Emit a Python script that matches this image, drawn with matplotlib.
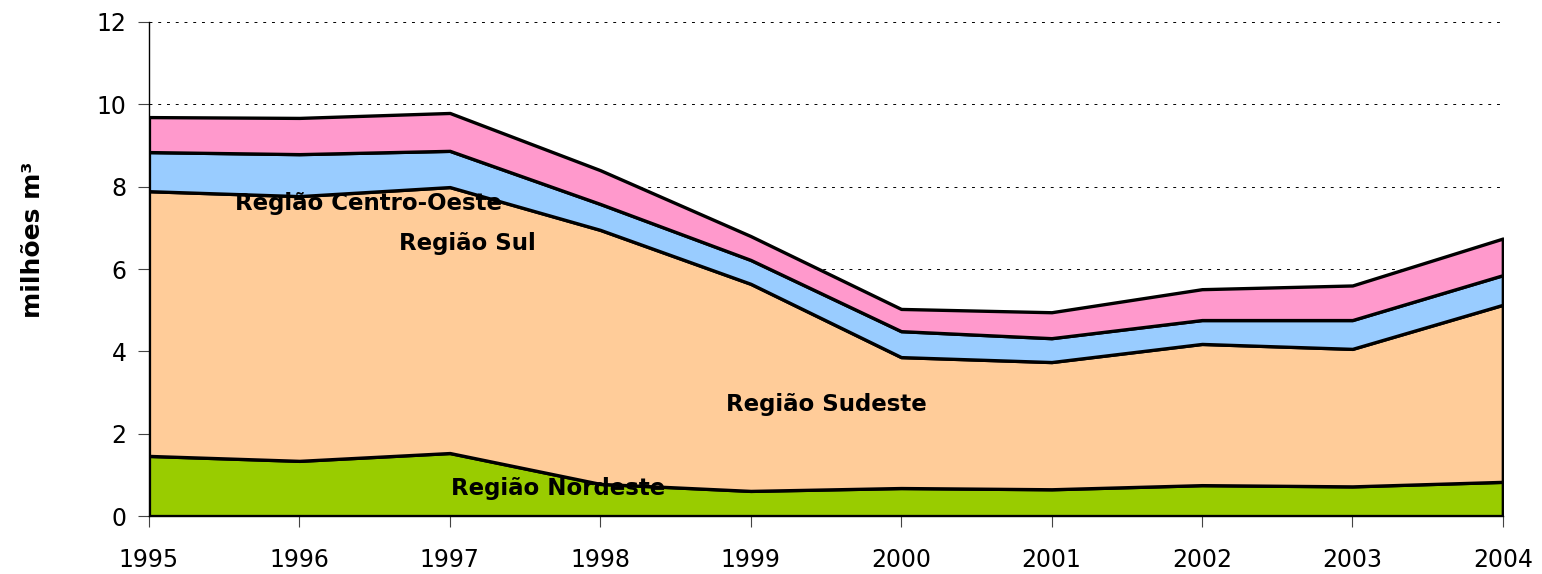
import matplotlib.pyplot as plt
import numpy as np

years = [1995, 1996, 1997, 1998, 1999, 2000, 2001, 2002, 2003, 2004]

nordeste = [1.46, 1.34, 1.53, 0.78, 0.61, 0.68, 0.65, 0.75, 0.72, 0.83]
sudeste_top = [7.89, 7.77, 7.99, 6.95, 5.64, 3.86, 3.74, 4.18, 4.06, 5.13]
sul_top = [8.84, 8.79, 8.87, 7.58, 6.22, 4.49, 4.32, 4.76, 4.76, 5.85]
co_top = [9.69, 9.67, 9.79, 8.40, 6.80, 5.03, 4.95, 5.51, 5.60, 6.74]

sudeste = np.array(sudeste_top) - np.array(nordeste)
sul = np.array(sul_top) - np.array(sudeste_top)
centro_oeste = np.array(co_top) - np.array(sul_top)

colors = ['#99CC00', '#FFCC99', '#99CCFF', '#FF99CC']

fig = plt.figure(figsize=(15.42, 5.74), dpi=100)
ax = fig.add_axes([0.0966, 0.101, 0.878, 0.8607])

ax.stackplot(years, nordeste, sudeste, sul, centro_oeste,
             colors=colors, edgecolor='black', linewidth=2.4, zorder=2)

ax.set_xlim(1995, 2004)
ax.set_ylim(0, 12)
ax.set_xticks(years)
ax.set_yticks(range(0, 13, 2))
ax.grid(axis='y', linestyle=(0, (3, 6)), color='black', linewidth=0.7, zorder=0)
ax.set_axisbelow(True)

for s in ['top', 'right']:
    ax.spines[s].set_visible(False)
ax.spines['left'].set_linewidth(1.0)
ax.spines['bottom'].set_linewidth(1.0)
ax.tick_params(axis='both', labelsize=17, length=8, width=0.8, color='#444444')
ax.tick_params(axis='y', pad=8)
ax.tick_params(axis='x', pad=15)

ax.set_ylabel('milhões m³', fontsize=18, fontweight='bold', va='center')
ax.yaxis.set_label_coords(-0.086, 0.56)

lbl = dict(fontsize=16.5, fontweight='bold', ha='center', va='center', zorder=5)
ax.text(1996.46, 7.58, 'Região Centro-Oeste', **lbl)
ax.text(1997.12, 6.61, 'Região Sul', **lbl)
ax.text(1999.50, 2.70, 'Região Sudeste', **lbl)
ax.text(1997.72, 0.68, 'Região Nordeste', **lbl)

fig.savefig('out.png', dpi=100)
